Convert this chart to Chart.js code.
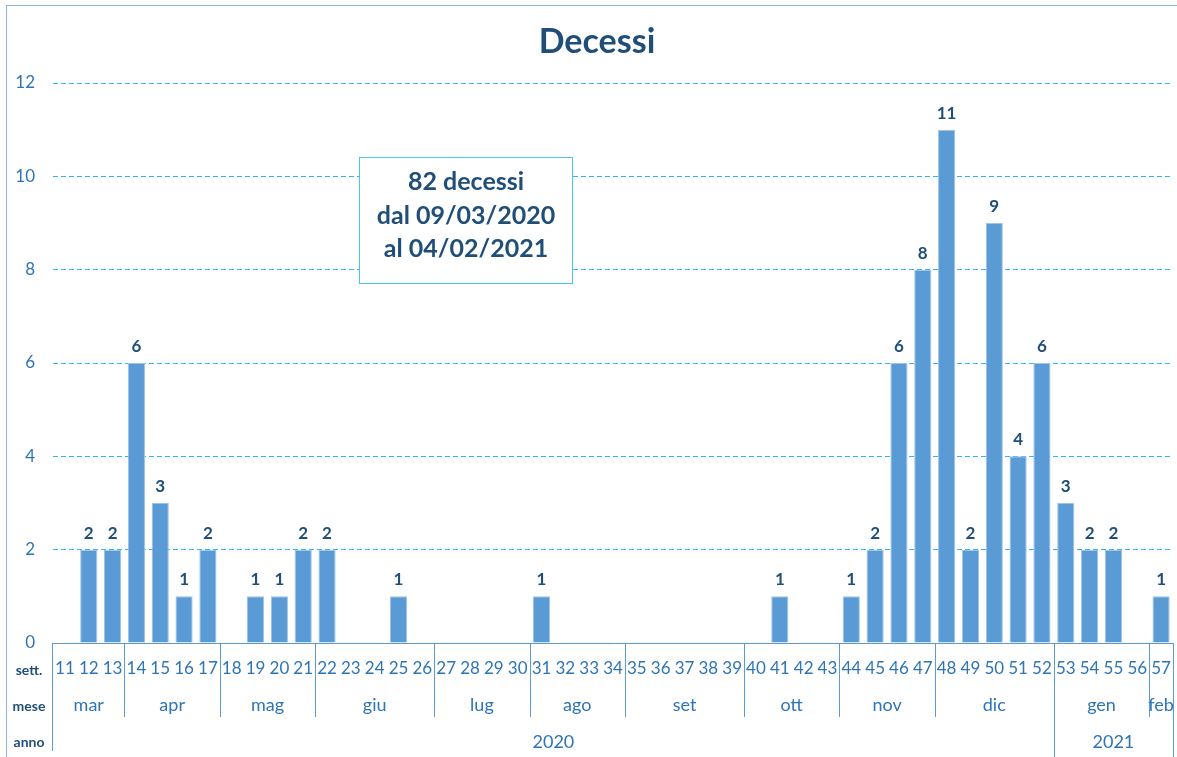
<!DOCTYPE html>
<html>
<head>
<meta charset="utf-8">
<script src="https://cdn.jsdelivr.net/npm/chart.js@4.4.1/dist/chart.umd.min.js"></script>
<style>
	html, body { margin: 0; padding: 0; background: #fff; }
	#wrap { width: 1177px; height: 757px; position: relative; }
</style>
</head>
<body>
<div id="wrap"><canvas id="deathChart" width="1177" height="757"></canvas></div>
<script>
// settimane
const weeks = [11, 12, 13, 14, 15, 16, 17, 18, 19, 20, 21, 22, 23, 24, 25, 26, 27, 28, 29, 30,
	31, 32, 33, 34, 35, 36, 37, 38, 39, 40, 41, 42, 43, 44, 45, 46, 47, 48, 49, 50, 51, 52,
	53, 54, 55, 56, 57];
// decessi per settimana
const deaths = [0, 2, 2, 6, 3, 1, 2, 0, 1, 1, 2, 2, 0, 0, 1, 0, 0, 0, 0, 0,
	1, 0, 0, 0, 0, 0, 0, 0, 0, 0, 1, 0, 0, 1, 2, 6, 8, 11, 2, 9, 4, 6,
	3, 2, 2, 0, 1];
// mesi: nome e numero di settimane
const months = ['mar', 'apr', 'mag', 'giu', 'lug', 'ago', 'set', 'ott', 'nov', 'dic', 'gen', 'feb'];
const monthWeeks = [3, 4, 4, 5, 4, 4, 5, 4, 4, 5, 4, 1];
// anni
const years = ['2020', '2021'];
const yearWeeks = [42, 5];
const yTicks = [0, 2, 4, 6, 8, 10, 12];
const noteLines = ['82 decessi', 'dal 09/03/2020', 'al 04/02/2021'];

const FONT = "Lato, 'Open Sans', sans-serif";
const DARK = '#1F4E79';
const BLUE = '#2E75B6';
const LINE = '#5B9BD5';

// titolo, box, etichette valori e asse a più livelli
const extrasPlugin = {
	id: 'extras',
	afterDraw(chart) {
		const ctx = chart.ctx;
		const xs = chart.scales.x;
		const area = chart.chartArea;
		const step = (area.right - area.left) / weeks.length;
		ctx.save();

		// cornice esterna
		ctx.strokeStyle = '#8DB3E2';
		ctx.lineWidth = 1;
		ctx.strokeRect(6.5, 5.5, 1190, 760);

		// titolo
		ctx.fillStyle = DARK;
		ctx.font = `bold 34px ${FONT}`;
		ctx.textAlign = 'center';
		ctx.textBaseline = 'alphabetic';
		ctx.fillText('Decessi', 597, 53);

		// etichette sopra le barre
		const meta = chart.getDatasetMeta(0);
		ctx.font = `bold 17px ${FONT}`;
		meta.data.forEach((bar, i) => {
			if (deaths[i] > 0) ctx.fillText(String(deaths[i]), bar.x, bar.y - 11);
		});

		// box riepilogo
		ctx.fillStyle = '#fff';
		ctx.fillRect(359, 157, 213, 126);
		ctx.strokeStyle = '#4CC3EE';
		ctx.strokeRect(359.5, 157.5, 213, 126);
		ctx.fillStyle = DARK;
		ctx.font = `bold 25px ${FONT}`;
		ctx.textBaseline = 'middle';
		noteLines.forEach((t, i) => ctx.fillText(t, 466, 182 + i * 33.5));

		// asse x a più livelli
		const y0 = area.bottom;
		const rowSett = y0 + 26, rowMese = y0 + 62, rowAnno = y0 + 99;
		ctx.fillStyle = BLUE;
		ctx.font = `17px ${FONT}`;
		weeks.forEach((w, i) => ctx.fillText(String(w), xs.getPixelForValue(i), rowSett));

		ctx.strokeStyle = LINE;
		ctx.lineWidth = 1;
		const vline = (x, yb) => {
			ctx.beginPath();
			ctx.moveTo(Math.round(x) + 0.5, y0);
			ctx.lineTo(Math.round(x) + 0.5, yb);
			ctx.stroke();
		};

		ctx.font = `18px ${FONT}`;
		let idx = 0;
		months.forEach((m, k) => {
			const a = area.left + idx * step;
			const b = a + monthWeeks[k] * step;
			ctx.fillText(m, (a + b) / 2, rowMese);
			vline(b, y0 + 74);
			idx += monthWeeks[k];
		});

		idx = 0;
		years.forEach((yr, k) => {
			const a = area.left + idx * step;
			const b = a + yearWeeks[k] * step;
			ctx.fillText(yr, (a + b) / 2, rowAnno);
			vline(b, 757);
			idx += yearWeeks[k];
		});
		vline(area.left - 1, y0 + 108);

		// nomi delle righe
		ctx.fillStyle = DARK;
		ctx.font = `bold 14px ${FONT}`;
		ctx.fillText('sett.', 29, rowSett + 1);
		ctx.fillText('mese', 29, rowMese + 1);
		ctx.fillText('anno', 29, rowAnno);
		ctx.restore();
	}
};

new Chart(document.getElementById('deathChart'), {
	type: 'bar',
	data: {
		labels: weeks.map(String),
		datasets: [{
			data: deaths,
			backgroundColor: '#5B9BD5',
			borderColor: '#9DC3E6',
			borderWidth: 1,
			barPercentage: 0.72,
			categoryPercentage: 1
		}]
	},
	options: {
		responsive: false,
		animation: false,
		layout: { padding: { top: 83, right: 4, left: 0, bottom: 0 } },
		plugins: {
			legend: { display: false },
			title: { display: false },
			tooltip: { enabled: false }
		},
		scales: {
			x: {
				grid: { display: false },
				border: { display: true, color: LINE, width: 1 },
				ticks: { display: false },
				afterFit: (scale) => { scale.height = 114; }
			},
			y: {
				min: 0,
				max: 12,
				afterBuildTicks: (scale) => { scale.ticks = yTicks.map(v => ({ value: v })); },
				afterFit: (scale) => { scale.width = 53; },
				ticks: {
					color: BLUE,
					font: { family: FONT, size: 17 },
					padding: 18
				},
				border: { display: false, dash: [5, 3] },
				grid: {
					drawTicks: false,
					color: (c) => c.tick && c.tick.value === 0 ? 'rgba(0,0,0,0)' : '#2FB8EE',
					lineWidth: 1
				}
			}
		}
	},
	plugins: [extrasPlugin]
});
</script>
</body>
</html>
